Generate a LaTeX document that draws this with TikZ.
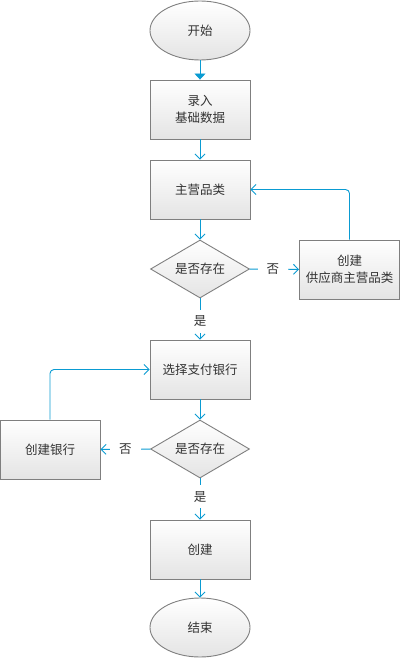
\documentclass[tikz,border=0pt]{standalone}
\usepackage{fontspec}
\setmainfont{Noto Sans CJK SC}
\usetikzlibrary{shapes.geometric,arrows.meta}
\definecolor{lineblue}{HTML}{0A9BD2}
\definecolor{edgegray}{HTML}{7F7F7F}
\definecolor{txtgray}{HTML}{333333}
\definecolor{fillbot}{HTML}{E4E4E4}
\tikzset{
  base/.style={draw=edgegray, line width=0.9pt, top color=white, bottom color=fillbot, text=txtgray, font=\fontsize{12.5}{17}\selectfont, align=center, inner sep=0pt},
  proc/.style={base, rectangle, minimum width=100pt, minimum height=59pt},
  term/.style={base, ellipse, minimum width=100pt, minimum height=59pt},
  decide/.style={base, diamond, aspect=1.7, minimum width=99pt, minimum height=58pt},
  conn/.style={draw=lineblue, line width=0.9pt, -{Straight Barb[length=5pt,width=10pt]}},
  connfill/.style={draw=lineblue, line width=0.9pt, -{Triangle[length=6pt,width=11pt]}},
  lbl/.style={fill=white, text=txtgray, font=\fontsize{12.5}{15}\selectfont, inner xsep=9pt, inner ysep=6pt},
}
\begin{document}
\begin{tikzpicture}[x=1pt,y=-1pt]
\useasboundingbox (0,0) rectangle (400,660);
\node[term] (start) at (200,30.5) {开始};
\node[proc] (input) at (200,109.5) {录入\\基础数据};
\node[proc] (cat) at (200,189.5) {主营品类};
\node[decide] (d1) at (200,269) {是否存在};
\node[proc] (newcat) at (349.5,269.5) {创建\\供应商主营品类};
\node[proc] (bank) at (200,369.5) {选择支付银行};
\node[decide] (d2) at (200,449) {是否存在};
\node[proc] (newbank) at (50,449.5) {创建银行};
\node[proc] (create) at (200,549.5) {创建};
\node[term] (end) at (200,627.5) {结束};

\draw[connfill] (start) -- (input);
\draw[conn] (input) -- (cat);
\draw[conn] (cat) -- (d1);
\draw[conn] (d1) -- node[lbl, pos=0.47] {否} (newcat);
\draw[conn, rounded corners=4pt] (newcat.north) |- (cat.east);
\draw[conn] (d1) -- node[lbl, pos=0.55] {是} (bank);
\draw[conn] (bank) -- (d2);
\draw[conn] (d2) -- node[lbl, pos=0.5] {否} (newbank);
\draw[conn, rounded corners=4pt] (newbank.north) |- (bank.west);
\draw[conn] (d2) -- node[lbl, pos=0.45] {是} (create);
\draw[conn] (create) -- (end);
\end{tikzpicture}
\end{document}
